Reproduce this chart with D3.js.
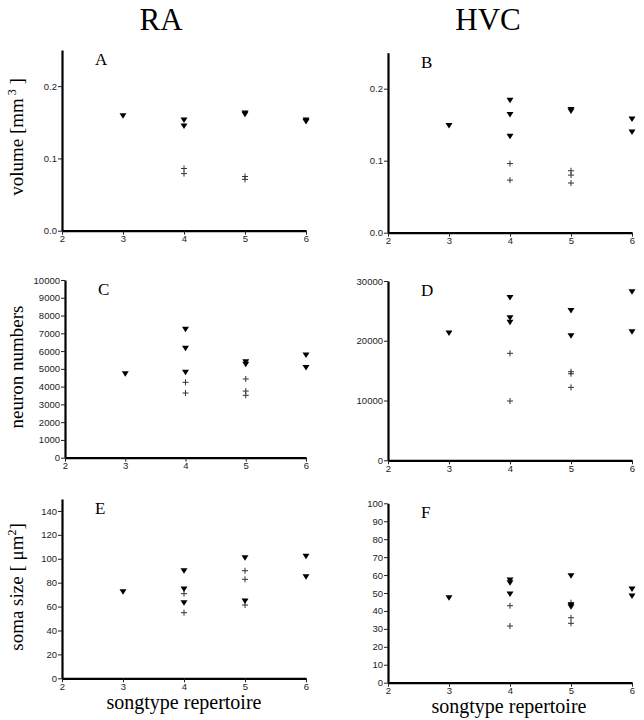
<!DOCTYPE html>
<html><head><meta charset="utf-8">
<script src="https://cdn.jsdelivr.net/npm/d3@7"></script>
<style>body{margin:0;background:#fff}svg{display:block}</style>
</head><body>
<svg id="c" width="644" height="720"></svg>
<script>
// x categories
const xTicks = [2, 3, 4, 5, 6];
// Panel A: RA volume (mm^3)
const raVolTri = [[3,0.159],[4,0.153],[4,0.145],[5,0.163],[5,0.161],[6,0.153],[6,0.151]];
const raVolCross = [[4,0.086],[4,0.079],[5,0.075],[5,0.071]];
// Panel B: HVC volume
const hvcVolTri = [[3,0.149],[4,0.184],[4,0.164],[4,0.134],[5,0.171],[5,0.169],[6,0.158],[6,0.140]];
const hvcVolCross = [[4,0.096],[4,0.073],[5,0.086],[5,0.080],[5,0.069]];
// Panel C: RA neuron numbers
const raNeuTri = [[3,4730],[4,7230],[4,6160],[4,4810],[5,5400],[5,5260],[6,5780],[6,5070]];
const raNeuCross = [[4,4240],[4,3640],[5,4430],[5,3750],[5,3510]];
// Panel D: HVC neuron numbers
const hvcNeuTri = [[3,21300],[4,27250],[4,23850],[4,23080],[5,25080],[5,20840],[6,28200],[6,21500]];
const hvcNeuCross = [[4,17900],[4,9920],[5,14820],[5,14480],[5,12200]];
// Panel E: RA soma size
const raSomaTri = [[3,72.5],[4,90],[4,74.7],[4,63.3],[5,100.9],[5,64.7],[6,102.1],[6,85]];
const raSomaCross = [[4,70.8],[4,54.9],[5,90],[5,82.8],[5,61.3]];
// Panel F: HVC soma size
const hvcSomaTri = [[3,47.4],[4,57.2],[4,55.7],[4,49.4],[5,59.6],[5,43.3],[5,42.4],[6,52.2],[6,48.3]];
const hvcSomaCross = [[4,42.9],[4,31.6],[5,44.6],[5,36.2],[5,33.1]];
// y tick labels
const volTicks = [0, 0.1, 0.2];
const raNeuTicks = [0,1000,2000,3000,4000,5000,6000,7000,8000,9000,10000];
const hvcNeuTicks = [0,10000,20000,30000];
const raSomaTicks = [0,20,40,60,80,100,120,140];
const hvcSomaTicks = [0,10,20,30,40,50,60,70,80,90,100];

const panels = [
  {letter:"A", x0:62, x1:306, top:50, bottom:230.7, ymax:0.25, ticks:volTicks, fmt:d3.format(".1f"), tri:raVolTri, cross:raVolCross},
  {letter:"B", x0:388, x1:632, top:52.7, bottom:232.7, ymax:0.25, ticks:volTicks, fmt:d3.format(".1f"), tri:hvcVolTri, cross:hvcVolCross},
  {letter:"C", x0:65, x1:306, top:280, bottom:457.7, ymax:10000, ticks:raNeuTicks, fmt:d3.format("d"), tri:raNeuTri, cross:raNeuCross},
  {letter:"D", x0:388, x1:632, top:281, bottom:460.3, ymax:30000, ticks:hvcNeuTicks, fmt:d3.format("d"), tri:hvcNeuTri, cross:hvcNeuCross},
  {letter:"E", x0:62, x1:306, top:499, bottom:678.3, ymax:150, ticks:raSomaTicks, fmt:d3.format("d"), tri:raSomaTri, cross:raSomaCross},
  {letter:"F", x0:388, x1:632, top:503.3, bottom:682.7, ymax:100, ticks:hvcSomaTicks, fmt:d3.format("d"), tri:hvcSomaTri, cross:hvcSomaCross}
];

const svg = d3.select("#c");
const serif = "'Liberation Serif','Times New Roman',serif";
const sans = "'Liberation Sans',Arial,sans-serif";

panels.forEach(p => {
  const x = d3.scaleLinear().domain([2,6]).range([p.x0, p.x1]);
  const y = d3.scaleLinear().domain([0,p.ymax]).range([p.bottom, p.top]);
  const g = svg.append("g");
  const yAx = g.append("g").attr("transform",`translate(${p.x0},0)`)
    .call(d3.axisLeft(y).tickValues(p.ticks).tickFormat(p.fmt).tickSize(4).tickSizeOuter(0));
  const xAx = g.append("g").attr("transform",`translate(0,${p.bottom})`)
    .call(d3.axisBottom(x).tickValues(xTicks).tickFormat(d3.format("d")).tickSize(4).tickSizeOuter(0));
  [yAx,xAx].forEach(a=>{
    a.select(".domain").attr("stroke","#000").attr("stroke-width",2.2);
    a.selectAll(".tick line").attr("stroke","#222").attr("stroke-width",1);
    a.selectAll(".tick text").attr("font-family",sans).attr("font-size",9.5).attr("fill","#222");
  });
  yAx.selectAll(".tick text").attr("x",-5);
  xAx.selectAll(".tick text").attr("y",5);
  // panel letter
  g.append("text").attr("x",p.x0+33).attr("y",p.top+15)
    .attr("font-family",serif).attr("font-size",17).text(p.letter);
  // crosses
  g.selectAll("path.cross").data(p.cross).join("path").attr("class","cross")
    .attr("transform",d=>`translate(${x(d[0])},${y(d[1])})`)
    .attr("d","M-3,0H3M0,-3V3").attr("stroke","#333").attr("stroke-width",1).attr("fill","none");
  // triangles
  g.selectAll("path.tri").data(p.tri).join("path").attr("class","tri")
    .attr("transform",d=>`translate(${x(d[0])},${y(d[1])})`)
    .attr("d","M-3.5,-2.5L3.5,-2.5L0,3Z").attr("fill","#000");
});

// column titles
svg.append("text").attr("x",161).attr("y",30).attr("text-anchor","middle")
  .attr("font-family",serif).attr("font-size",31).text("RA");
svg.append("text").attr("x",488).attr("y",30).attr("text-anchor","middle")
  .attr("font-family",serif).attr("font-size",31).text("HVC");

// y labels
function ylab(cy, build){
  const t = svg.append("text").attr("transform",`translate(23,${cy}) rotate(-90)`)
    .attr("text-anchor","middle").attr("font-family",serif).attr("font-size",19);
  build(t);
}
ylab(137, t=>{ t.append("tspan").text("volume [mm");
  t.append("tspan").attr("dy",-7).attr("font-size",12).text(" 3");
  t.append("tspan").attr("dy",7).text(" ]"); });
ylab(367, t=>{ t.text("neuron numbers"); });
ylab(587, t=>{ t.append("tspan").text("soma size [ \u03bcm");
  t.append("tspan").attr("dy",-7).attr("font-size",12).text("2");
  t.append("tspan").attr("dy",7).text("]"); });

// x labels
svg.append("text").attr("x",184).attr("y",709).attr("text-anchor","middle")
  .attr("font-family",serif).attr("font-size",20).text("songtype repertoire");
svg.append("text").attr("x",509).attr("y",713).attr("text-anchor","middle")
  .attr("font-family",serif).attr("font-size",20).text("songtype repertoire");
</script>
</body></html>
